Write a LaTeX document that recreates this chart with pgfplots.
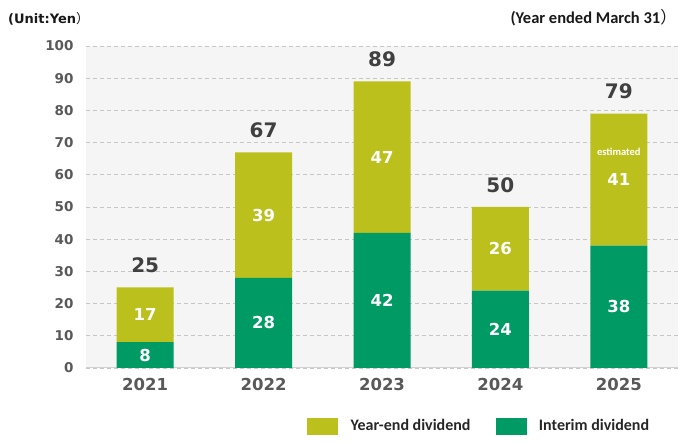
\documentclass[border=0pt]{standalone}
\usepackage{pgfplots}
\pgfplotsset{compat=1.18}
\usepackage{fontspec}
\setmainfont{Carlito}
\newfontfamily\dv{DejaVu Sans}
\newfontfamily\cjk{Noto Sans CJK JP}
\definecolor{yearend}{RGB}{187,192,28}
\definecolor{interim}{RGB}{0,155,100}
\definecolor{tickgray}{RGB}{89,89,89}
\definecolor{totgray}{RGB}{64,64,64}
\definecolor{bggray}{RGB}{245,245,245}
\pgfplotsset{common/.style={at={(86pt,75pt)}, anchor=south west,
  scale only axis, width=592pt, height=322pt,
  xmin=-0.5, xmax=4.5, ymin=0, ymax=100}}
\begin{document}
\begin{tikzpicture}[x=1pt,y=1pt]
\path[use as bounding box] (0,0) rectangle (680,443);
\begin{axis}[
  common,
  ybar stacked, bar width=57pt,
  xtick={0,1,2,3,4}, xticklabels={2021,2022,2023,2024,2025},
  ytick={0,10,...,100},
  major tick length=0pt,
  axis line style={draw=none},
  axis background/.style={fill=bggray},
  ymajorgrids,
  major grid style={draw=black!22, dash pattern=on 4pt off 3pt, line width=0.8pt},
  extra y ticks={0}, extra y tick labels={},
  extra y tick style={grid=major, major grid style={draw=black!18, solid, line width=1pt}},
  /pgf/number format/assume math mode=true,
  yticklabel style={font=\dv\bfseries\fontsize{13.5}{14}\selectfont, text=tickgray, xshift=-9pt},
  xticklabel style={font=\dv\bfseries\fontsize{16.5}{17}\selectfont, text=tickgray, yshift=-7pt},
  legend style={at={(0.3733,-0.18)}, anchor=west, draw=none, fill=none,
    legend columns=2, inner sep=0pt,
    nodes={inner sep=0pt, font=\bfseries\fontsize{16}{17}\selectfont, text=black!85},
    /tikz/every odd column/.style={column sep=13pt},
    /tikz/column 2/.style={column sep=25pt}},
  legend cell align=left,
]
\addlegendimage{legend image code/.code={\fill[yearend] (0pt,-8pt) rectangle (30pt,8pt);}}
\addlegendentry{Year-end dividend}
\addlegendimage{legend image code/.code={\fill[interim] (0pt,-8pt) rectangle (30pt,8pt);}}
\addlegendentry{Interim dividend}
\addplot[fill=interim, draw=none, forget plot] coordinates {(0,8) (1,28) (2,42) (3,24) (4,38)};
\addplot[fill=yearend, draw=none, forget plot] coordinates {(0,17) (1,39) (2,47) (3,26) (4,41)};
\end{axis}
\begin{axis}[common, hide axis, clip=false]
\addplot[only marks, mark=none, point meta=explicit symbolic,
  nodes near coords, nodes near coords style={anchor=center, text=white, font=\dv\bfseries\fontsize{16.5}{16.5}\selectfont}]
  table[meta=lab] {
x y lab
0 4 8
1 14 28
2 21 42
3 12 24
4 19 38
0 16.5 17
1 47.5 39
2 65.5 47
3 37 26
4 58.5 41
};
\addplot[only marks, mark=none, point meta=explicit symbolic,
  nodes near coords, nodes near coords style={anchor=center, text=totgray, font=\dv\bfseries\fontsize{20}{20}\selectfont}]
  table[meta=lab] {
x y lab
0 31.8 25
1 73.8 67
2 95.8 89
3 56.8 50
4 85.8 79
};
\addplot[only marks, mark=none, point meta=explicit symbolic,
  nodes near coords, nodes near coords style={anchor=center, text=white, font=\bfseries\fontsize{10.5}{11}\selectfont}]
  table[meta=lab] {
x y lab
4 67 estimated
};
\end{axis}
\node[anchor=west, inner sep=0pt, text=black!90] at (8,424) {\dv\bfseries\fontsize{13}{14}\selectfont (Unit:Yen{\cjk\mdseries）}};
\node[anchor=east, inner sep=0pt, text=black!90] at (677,425) {\bfseries\fontsize{16.5}{17}\selectfont (Year ended March 31{\cjk\mdseries）}};
\end{tikzpicture}
\end{document}
